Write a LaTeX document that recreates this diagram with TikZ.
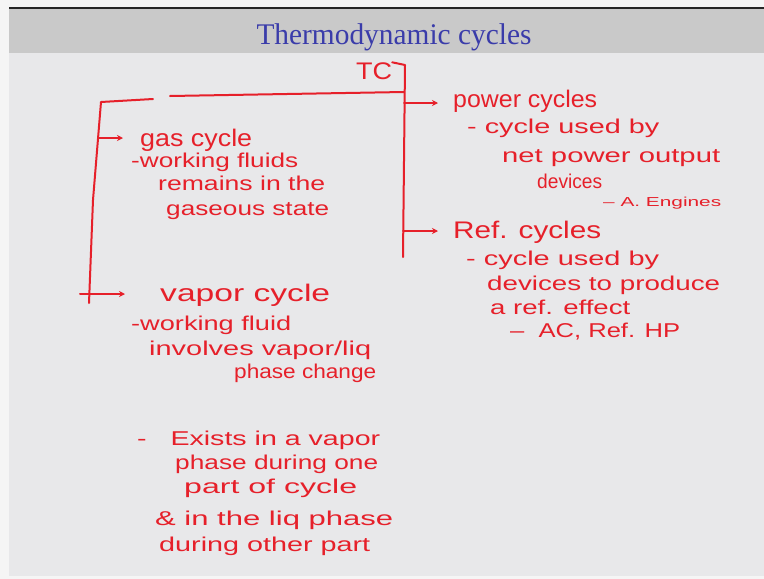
\documentclass[tikz,border=0pt]{standalone}
\usepackage{fontspec}
\setmainfont{Liberation Serif}
\newfontfamily\inkfont{Liberation Sans}
\usetikzlibrary{arrows.meta}
\definecolor{ink}{RGB}{230,32,42}
\definecolor{titleblue}{RGB}{58,60,170}
\definecolor{barbg}{RGB}{201,201,201}
\definecolor{bodybg}{RGB}{232,232,234}
\definecolor{edgebg}{RGB}{245,245,245}
\newcommand\hw[2]{\resizebox{#1pt}{\height}{#2}}
\begin{document}
\begin{tikzpicture}[x=1pt,y=-1pt,
  pen/.style={draw=ink, line width=2pt, line cap=round, line join=round},
  tip/.style={-{Stealth[length=6pt,width=6pt]}},
  inktext/.style={inner sep=0pt, anchor=base west, text=ink, font=\inkfont\fontsize{20}{20}\selectfont},
  headtext/.style={inktext, font=\inkfont\fontsize{24}{24}\selectfont},
  smalltext/.style={inktext, font=\inkfont\fontsize{13}{13}\selectfont},
  titletext/.style={inner sep=0pt, anchor=base, text=titleblue, font=\fontsize{30}{30}\selectfont}]
\useasboundingbox (0,0) rectangle (764,579);
\fill[edgebg] (0,0) rectangle (764,579);
\fill[bodybg] (9,53) rectangle (764,576);
\fill[barbg] (9,9) rectangle (764,53);
\fill[black!85] (9,7) rectangle (764,9);
\node[titletext] (title) at (394,44) {\hw{275}{Thermodynamic cycles}};

% root
\node[headtext, anchor=center] (TC) at (374,71) {\hw{36}{TC}};

% right column
\node[headtext] (power) at (453,107) {\hw{144}{power cycles}};
\node[inktext] (p1) at (467,133) {\hw{192}{- cycle used by}};
\node[inktext] (p2) at (502,162) {\hw{218}{net power output}};
\node[inktext] (p3) at (537,188) {\hw{65}{devices}};
\node[smalltext] (p4) at (603,206) {\hw{118}{– A. Engines}};
\node[headtext] (ref) at (453,238) {\hw{148}{Ref. cycles}};
\node[inktext] (r1) at (466,265) {\hw{193}{- cycle used by}};
\node[inktext] (r2) at (487,290) {\hw{233}{devices to produce}};
\node[inktext] (r3) at (490,314) {\hw{140}{a ref. effect}};
\node[inktext] (r4) at (510,337) {\hw{170}{–\ \ AC, Ref. HP}};

% left column
\node[headtext] (gas) at (140,146) {\hw{112}{gas cycle}};
\node[inktext] (g1) at (131,167) {\hw{167}{-working fluids}};
\node[inktext] (g2) at (158,190) {\hw{167}{remains in the}};
\node[inktext] (g3) at (166,215) {\hw{163}{gaseous state}};
\node[headtext] (vapor) at (160,301) {\hw{170}{vapor cycle}};
\node[inktext] (v1) at (131,330) {\hw{160}{-working fluid}};
\node[inktext] (v2) at (149,355) {\hw{222}{involves vapor/liq}};
\node[inktext] (v3) at (234,378) {\hw{142}{phase change}};
\node[inktext] (v4) at (137,445) {\hw{243}{-\ \ \ Exists in a vapor}};
\node[inktext] (v5) at (175,469) {\hw{203}{phase during one}};
\node[inktext] (v6) at (184,493) {\hw{173}{part of cycle}};
\node[inktext] (v7) at (155,525) {\hw{238}{\& in the liq phase}};
\node[inktext] (v8) at (159,551) {\hw{211}{during other part}};

% bracket coordinates
\coordinate (rtop) at (405,65);
\coordinate (rbot) at (403,257);
\coordinate (pw) at (404,103);
\coordinate (rf) at (403,231);
\coordinate (ttop) at (404,92);
\coordinate (tgapA) at (170,96);
\coordinate (tgapB) at (153,99);
\coordinate (ltop) at (101,102);
\coordinate (lmid) at (93,200);
\coordinate (lbot) at (89,303);
\coordinate (gs) at (99,138);
\coordinate (vs) at (80,294);

% connectors
\draw[pen] (TC.north east) -- (rtop) -- (rbot);
\draw[pen] (ttop) -- (tgapA);
\draw[pen] (tgapB) -- (ltop) -- (lmid) -- (lbot);
\draw[pen, tip, shorten >=15pt] (pw) -- (pw -| power.west);
\draw[pen, tip, shorten >=15pt] (rf) -- (rf -| ref.west);
\draw[pen, tip, shorten >=17pt] (gs) -- (gs -| gas.west);
\draw[pen, tip, shorten >=35pt] (vs) -- (vs -| vapor.west);
\end{tikzpicture}
\end{document}
